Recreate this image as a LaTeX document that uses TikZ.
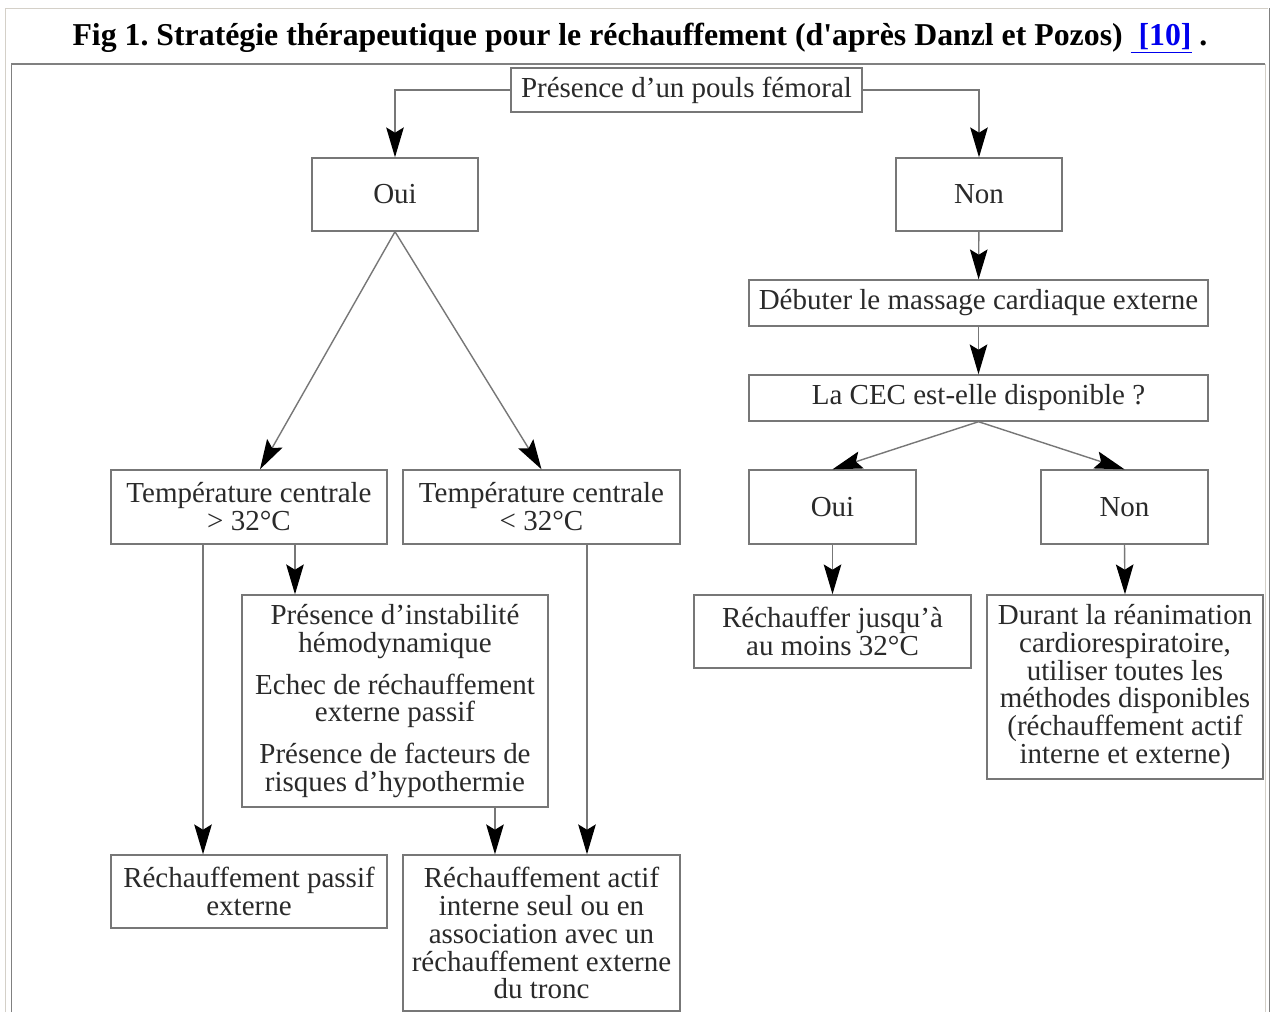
\documentclass[tikz,border=0pt]{standalone}
\usepackage{fontspec}
\setmainfont{Liberation Serif}
\newfontfamily\titlefont[Ligatures=TeXOff]{Liberation Serif}
\usetikzlibrary{arrows.meta}
\definecolor{framelight}{HTML}{D4D0C8}
\definecolor{framedark}{HTML}{808080}
\definecolor{boxline}{HTML}{777777}
\definecolor{boxtext}{HTML}{2A2A2A}
\definecolor{linkblue}{HTML}{0000EE}
\begin{document}
\begin{tikzpicture}[x=0.02cm, y=-0.02cm,
    stepbox/.style ={rectangle, draw=boxline, line width=0.8pt, fill=white, text=boxtext,
      align=center, inner sep=2pt, font=\fontsize{16.5pt}{15.9pt}\selectfont},
    arr/.style ={draw=boxline, line width=0.8pt, -{Stealth[length=17pt,width=10pt,inset=3pt,color=black]}}]
   \useasboundingbox (0,0) rectangle (1271,1012);
   \fill[white] (0,0) rectangle (1271,1012);
   \draw[framelight, line width=1.1pt] (5.5,1012) -- (5.5,8.5) -- (1268,8.5);
   \draw[framedark, line width=1.1pt] (1269.5,8) -- (1269.5,1012);
   \draw[framedark, line width=1.1pt] (11.5,1012) -- (11.5,64) -- (1265,64);
   \draw[framelight, line width=1.1pt] (1265.5,64) -- (1265.5,1012);
   \node[font=\titlefont\fontsize{18.1pt}{19pt}\bfseries\selectfont\frenchspacing, inner sep=0pt] (title) at (640,38)
     {Fig 1. Stratégie thérapeutique pour le réchauffement (d'après Danzl et Pozos) {\color{linkblue}\underline{\ [10]}} .};
   \node[stepbox, minimum width=7.02cm, minimum height=0.88cm] (pouls)  at (686.5,90)  {Présence d’un pouls fémoral};
   \node[stepbox, minimum width=3.32cm, minimum height=1.46cm] (oui)  at (395,194.5)  {Oui};
   \node[stepbox, minimum width=3.32cm, minimum height=1.46cm] (non)  at (979,194.5)  {Non};
   \node[stepbox, minimum width=9.18cm, minimum height=0.92cm] (massage)  at (978.5,303)  {Débuter le massage cardiaque externe};
   \node[stepbox, minimum width=9.18cm, minimum height=0.92cm] (cec)  at (978.5,398)  {La CEC est-elle disponible ?};
   \node[stepbox, minimum width=3.34cm, minimum height=1.48cm] (ceccoui)  at (832.5,507)  {Oui};
   \node[stepbox, minimum width=3.34cm, minimum height=1.48cm] (cecnon)  at (1124.5,507)  {Non};
   \node[stepbox, minimum width=5.54cm, minimum height=1.46cm] (jusqua)  at (832.5,631.5)  {Réchauffer jusqu’à\\au moins 32°C};
   \node[stepbox, minimum width=5.52cm, minimum height=3.68cm] (durant)  at (1125,687)
     {Durant la réanimation\\cardiorespiratoire,\\utiliser toutes les\\méthodes disponibles\\(réchauffement actif\\interne et externe)};
   \node[stepbox, minimum width=5.52cm, minimum height=1.48cm] (tsup)  at (249,507)  {Température centrale\\> 32°C};
   \node[stepbox, minimum width=5.54cm, minimum height=1.48cm] (tinf)  at (541.5,507)  {Température centrale\\< 32°C};
   \node[stepbox, minimum width=6.12cm, minimum height=4.24cm] (instab)  at (395,701)
     {Présence d’instabilité\\hémodynamique\\[8pt]Echec de réchauffement\\externe passif\\[8pt]Présence de facteurs de\\risques d’hypothermie};
   \node[stepbox, minimum width=5.52cm, minimum height=1.46cm] (passif)  at (249,891.5)  {Réchauffement passif\\externe};
   \node[stepbox, minimum width=5.54cm, minimum height=3.12cm] (actif)  at (541.5,933)
     {Réchauffement actif\\interne seul ou en\\association avec un\\réchauffement externe\\du tronc};
   \draw[arr] (pouls.west) -| (oui.north);
   \draw[arr] (pouls.east) -| (non.north);
   \draw[arr] (non) -- (massage);
   \draw[arr] (massage) -- (cec);
   \draw[arr] (cec.south) -- (ceccoui.north);
   \draw[arr] (cec.south) -- (cecnon.north);
   \draw[arr] (ceccoui) -- (jusqua);
   \draw[arr] (cecnon.south) -- (durant.north);
   \draw[arr] (oui.south) -- ([xshift=0.22cm]tsup.north);
   \draw[arr] (oui.south) -- (tinf.north);
   \draw[arr] ([xshift=-0.92cm]tsup.south) -- ([xshift=-0.92cm]passif.north);
   \draw[arr] ([xshift=0.92cm]tsup.south) -- ([xshift=0.92cm]tsup.south |- instab.north);
   \draw[arr] ([xshift=2cm]instab.south) -- ([xshift=2cm]instab.south |- actif.north);
   \draw[arr] ([xshift=0.91cm]tinf.south) -- ([xshift=0.91cm]actif.north);
 \end{tikzpicture}
\end{document}
